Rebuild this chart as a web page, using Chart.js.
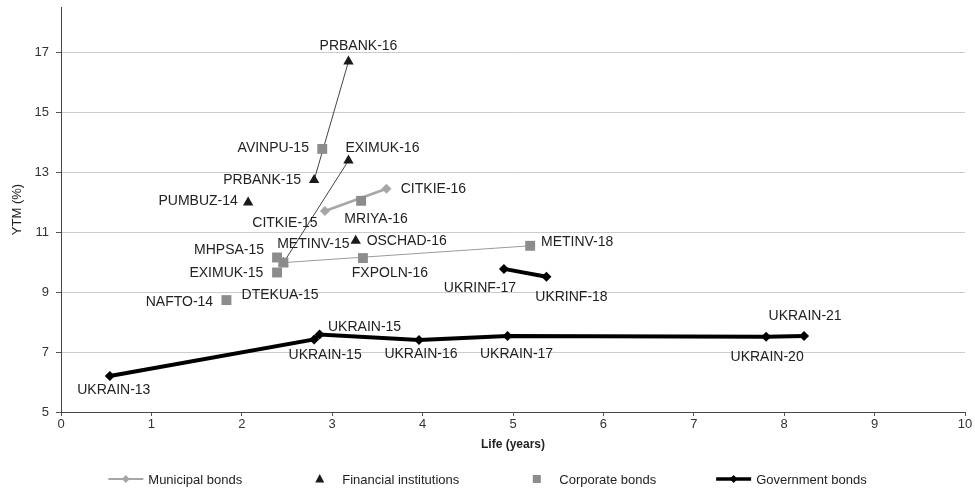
<!DOCTYPE html>
<html>
<head>
<meta charset="utf-8">
<script src="https://cdn.jsdelivr.net/npm/chart.js@4.4.0/dist/chart.umd.min.js"></script>
<style>
  html, body { margin: 0; padding: 0; background: #fff; }
  #wrap { width: 975px; height: 488px; }
</style>
</head>
<body>
<div id="wrap"><canvas id="out"></canvas></div>
<script>
// bond data: life in years, yield to maturity in %
const municipalNames = ["CITKIE-15", "CITKIE-16"];
const municipalLife = [2.92, 3.60];
const municipalYtm = [11.70, 12.44];

const financialNames = ["PUMBUZ-14", "PRBANK-15", "PRBANK-16", "EXIMUK-15", "EXIMUK-16", "OSCHAD-16"];
const financialLife = [2.07, 2.80, 3.18, 2.46, 3.18, 3.26];
const financialYtm = [11.98, 12.73, 16.68, 9.97, 13.38, 10.71];

const corporateNames = ["NAFTO-14", "MHPSA-15", "DTEKUA-15", "AVINPU-15", "METINV-15", "METINV-18", "MRIYA-16", "FXPOLN-16"];
const corporateLife = [1.83, 2.39, 2.39, 2.89, 2.46, 5.19, 3.32, 3.34];
const corporateYtm = [8.73, 10.15, 9.65, 13.77, 9.98, 10.54, 12.04, 10.13];

const governmentNames = ["UKRAIN-13", "UKRAIN-15", "UKRAIN-15", "UKRAIN-16", "UKRAIN-17", "UKRAIN-20", "UKRAIN-21", "UKRINF-17", "UKRINF-18"];
const governmentLife = [0.54, 2.80, 2.86, 3.96, 4.94, 7.80, 8.22, 4.90, 5.37];
const governmentYtm = [6.20, 7.42, 7.58, 7.40, 7.53, 7.51, 7.53, 9.77, 9.51];

const yTicks = [5, 7, 9, 11, 13, 15, 17];

// where each data label sits, relative to its marker (px)
const municipalLabelShift = [[-40, 12], [47, 0]];
const financialLabelShift = [[-50, -1], [-52, 0], [10, -15], [-57, 10], [34, -12], [51, 0]];
const corporateLabelShift = [[-47, 2], [-48, -7], [3, 23], [-49, -1], [30, -18], [47, -4], [15, 18], [27, 15]];
const governmentLabelShift = [[4, 14], [11, 16], [45, -7], [2, 14], [9, 18], [1, 20], [1, -20], [-24, 19], [25, 20]];

const FONT = "'Liberation Sans', Arial, sans-serif";

// bonds of one issuer are joined by a line, a null point breaks it between issuers
function buildPoints(names, life, ytm, shift) {
  const pts = [];
  names.forEach((name, i) => {
    const issuer = name.split("-")[0];
    if (i > 0 && issuer !== names[i - 1].split("-")[0]) {
      pts.push({ x: life[i], y: null });
    }
    pts.push({ x: life[i], y: ytm[i], name: name, shift: shift[i] });
  });
  return pts;
}

const bondLabels = {
  id: "bondLabels",
  afterDatasetsDraw(chart) {
    const ctx = chart.ctx;
    ctx.save();
    ctx.font = "14px " + FONT;
    ctx.fillStyle = "#222";
    ctx.textAlign = "center";
    ctx.textBaseline = "middle";
    chart.data.datasets.forEach((ds, di) => {
      const meta = chart.getDatasetMeta(di);
      ds.data.forEach((p, i) => {
        if (!p.name) return;
        const el = meta.data[i];
        ctx.fillText(p.name, el.x + p.shift[0], el.y + p.shift[1]);
      });
    });
    ctx.restore();
  }
};

function diamond(ctx, x, y, r) {
  ctx.beginPath();
  ctx.moveTo(x, y - r);
  ctx.lineTo(x + r, y);
  ctx.lineTo(x, y + r);
  ctx.lineTo(x - r, y);
  ctx.closePath();
  ctx.fill();
}

const legendItems = [
  { text: "Municipal bonds", kind: "lineDiamond", color: "#a6a6a6", width: 2 },
  { text: "Financial institutions", kind: "triangle", color: "#1a1a1a" },
  { text: "Corporate bonds", kind: "square", color: "#8c8c8c" },
  { text: "Government bonds", kind: "lineDiamond", color: "#000", width: 3.5 }
];

const bottomLegend = {
  id: "bottomLegend",
  afterDraw(chart) {
    const ctx = chart.ctx;
    ctx.save();
    ctx.font = "13px " + FONT;
    ctx.textBaseline = "middle";
    ctx.textAlign = "left";
    const sym = 35, gap = 5, between = 60, y = 479;
    const widths = legendItems.map(it => ctx.measureText(it.text).width);
    let total = widths.reduce((a, b) => a + b, 0) + legendItems.length * (sym + gap) + (legendItems.length - 1) * between;
    let x = (chart.width - total) / 2;
    legendItems.forEach((it, i) => {
      const cx = x + sym / 2;
      ctx.fillStyle = it.color;
      ctx.strokeStyle = it.color;
      if (it.kind === "lineDiamond") {
        ctx.lineWidth = it.width;
        ctx.beginPath();
        ctx.moveTo(x, y);
        ctx.lineTo(x + sym, y);
        ctx.stroke();
        diamond(ctx, cx, y, 4);
      } else if (it.kind === "triangle") {
        ctx.beginPath();
        ctx.moveTo(cx, y - 5);
        ctx.lineTo(cx + 4.5, y + 3.5);
        ctx.lineTo(cx - 4.5, y + 3.5);
        ctx.closePath();
        ctx.fill();
      } else {
        ctx.fillRect(cx - 4, y - 4, 8, 8);
      }
      ctx.fillStyle = "#222";
      ctx.fillText(it.text, x + sym + gap, y + 1);
      x += sym + gap + widths[i] + between;
    });
    ctx.restore();
  }
};

const ctx = document.getElementById("out").getContext("2d");
new Chart(ctx, {
  type: "scatter",
  data: {
    datasets: [
      {
        label: "Corporate bonds",
        data: buildPoints(corporateNames, corporateLife, corporateYtm, corporateLabelShift),
        showLine: true,
        borderColor: "#9a9a9a",
        borderWidth: 1,
        pointStyle: "rect",
        pointRadius: 7,
        pointBackgroundColor: "#8c8c8c",
        pointBorderWidth: 0,
        order: 0
      },
      {
        label: "Municipal bonds",
        data: buildPoints(municipalNames, municipalLife, municipalYtm, municipalLabelShift),
        showLine: true,
        borderColor: "#a6a6a6",
        borderWidth: 2.5,
        pointStyle: "rectRot",
        pointRadius: 5,
        pointBackgroundColor: "#a6a6a6",
        pointBorderWidth: 0,
        order: 1
      },
      {
        label: "Financial institutions",
        data: buildPoints(financialNames, financialLife, financialYtm, financialLabelShift),
        showLine: true,
        borderColor: "#444",
        borderWidth: 1,
        pointStyle: "triangle",
        pointRadius: 6,
        pointBackgroundColor: "#1a1a1a",
        pointBorderWidth: 0,
        order: 2
      },
      {
        label: "Government bonds",
        data: buildPoints(governmentNames, governmentLife, governmentYtm, governmentLabelShift),
        showLine: true,
        borderColor: "#000",
        borderWidth: 4,
        pointStyle: "rectRot",
        pointRadius: 5,
        pointBackgroundColor: "#000",
        pointBorderWidth: 0,
        order: 3
      }
    ]
  },
  options: {
    responsive: true,
    maintainAspectRatio: false,
    animation: false,
    spanGaps: false,
    layout: { padding: { left: 0, right: 10, top: 7, bottom: 30 } },
    plugins: {
      legend: { display: false },
      tooltip: { enabled: false }
    },
    scales: {
      x: {
        type: "linear",
        min: 0,
        max: 10,
        ticks: { stepSize: 1, color: "#333", padding: 1, font: { family: FONT, size: 13 } },
        grid: { drawOnChartArea: false, tickLength: 4, tickColor: "#555" },
        border: { color: "#444", width: 1 },
        title: {
          display: true,
          text: "Life (years)",
          color: "#222",
          font: { family: FONT, size: 12, weight: "bold" },
          padding: { top: 2, bottom: 6 }
        },
        afterFit(scale) { scale.height = 46; }
      },
      y: {
        type: "linear",
        min: 5,
        max: 18.5,
        afterBuildTicks(scale) { scale.ticks = yTicks.map(v => ({ value: v })); },
        ticks: { color: "#333", padding: 7, font: { family: FONT, size: 13 } },
        grid: { color: "#cccccc", lineWidth: 1, tickLength: 5, tickColor: "#555" },
        border: { color: "#444", width: 1 },
        title: {
          display: true,
          text: "YTM (%)",
          color: "#222",
          font: { family: FONT, size: 13 },
          padding: { top: 10, bottom: 0 }
        },
        afterFit(scale) {
          scale.width = 61;
          scale.paddingTop = 0;
          scale.paddingBottom = 0;
        }
      }
    }
  },
  plugins: [bondLabels, bottomLegend]
});
</script>
</body>
</html>
